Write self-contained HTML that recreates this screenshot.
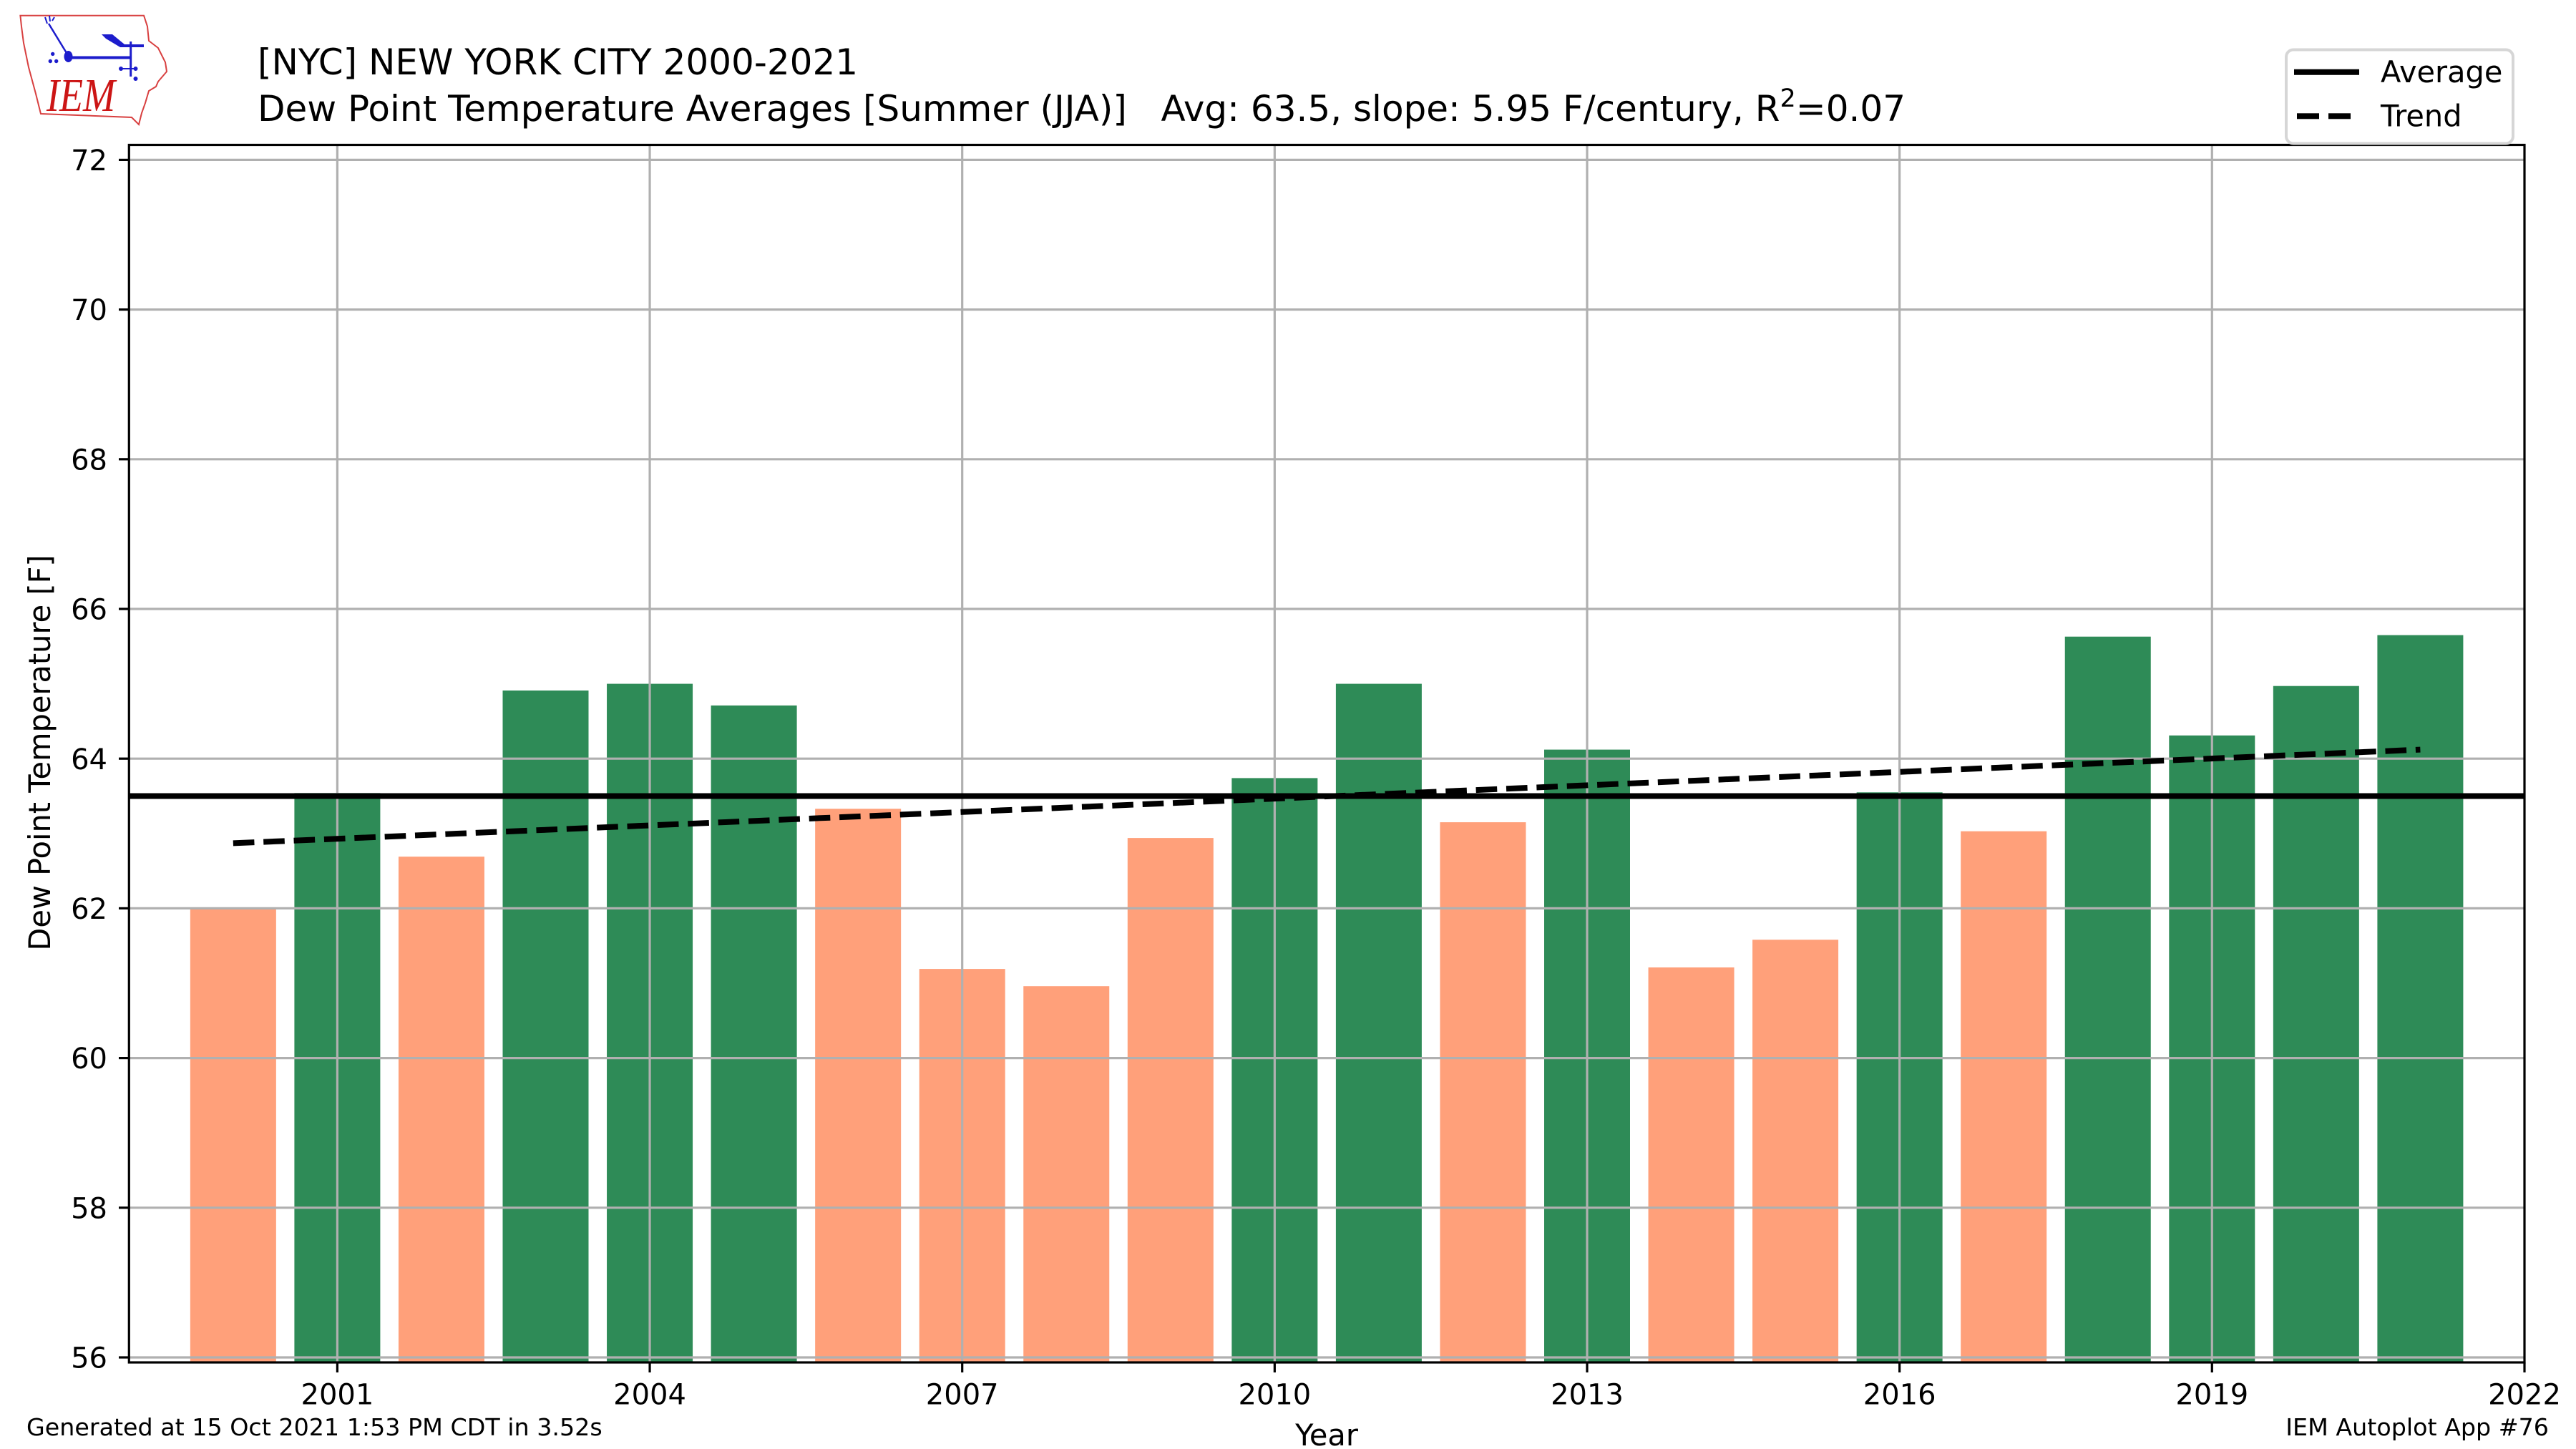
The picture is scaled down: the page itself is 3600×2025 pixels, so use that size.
<!DOCTYPE html>
<html>
<head>
<meta charset="utf-8">
<style>
html,body{margin:0;padding:0;background:#fff;}
svg{display:block;}
text{font-family:"DejaVu Sans","Liberation Sans",sans-serif;fill:#000;white-space:pre;}
</style>
</head>
<body>
<svg width="3600" height="2025" viewBox="0 0 3600 2025" xmlns="http://www.w3.org/2000/svg">
<rect x="0" y="0" width="3600" height="2025" fill="#fff"/>

<!-- Logo -->
<g>
  <path d="M28.4,21.7 L201,21.7 L206,37 L208,57 L221,67 L231,87 L233,100 L221,114 L218,121 L208,127 L203,144 L198,158 L194,174 L184,164 L57,159 L50,131 L40,94 L33,60 L30,37 Z" fill="#fff" stroke="#d84040" stroke-width="2"/>
  <g stroke="#1c1ccc" fill="#1c1ccc">
    <line x1="68" y1="33" x2="93" y2="74" stroke-width="2.5"/>
    <line x1="66" y1="33" x2="63" y2="24" stroke-width="2"/>
    <line x1="70" y1="30" x2="69" y2="22" stroke-width="2"/>
    <line x1="73" y1="29" x2="76" y2="24" stroke-width="2"/>
    <ellipse cx="95.5" cy="79" rx="6" ry="8" stroke="none"/>
    <line x1="95" y1="80.5" x2="182" y2="80.5" stroke-width="4"/>
    <line x1="182.7" y1="58" x2="182.7" y2="107" stroke-width="3"/>
    <polygon points="142,48 157,48 174,62 201,62 201,66 168,66 148,54" stroke="none"/>
    <circle cx="73.7" cy="75.4" r="2.7" stroke="none"/>
    <circle cx="70.3" cy="85.5" r="2.7" stroke="none"/>
    <circle cx="78.7" cy="85.5" r="2.7" stroke="none"/>
    <circle cx="169" cy="96" r="3" stroke="none"/>
    <circle cx="189.5" cy="96" r="3" stroke="none"/>
    <circle cx="189.5" cy="110" r="3" stroke="none"/>
    <line x1="169" y1="96" x2="189" y2="96" stroke-width="2"/>
  </g>
  <text x="65" y="155" textLength="96" lengthAdjust="spacingAndGlyphs" style="font-family:'Liberation Serif',serif;font-style:italic;font-size:66px;fill:#cc1515;">IEM</text>
</g>

<!-- Titles -->
<text x="360" y="104" style="font-size:50px;">[NYC] NEW YORK CITY 2000-2021</text>
<text x="360" y="169" style="font-size:50px;">Dew Point Temperature Averages [Summer (JJA)]   Avg: 63.5, slope: 5.95 F/century, R<tspan dy="-20" style="font-size:35px;">2</tspan><tspan dy="20">=0.07</tspan></text>

<!-- Bars -->
<g>
<rect x="265.85" y="1270.4" width="120" height="633.6" fill="#FFA07A"/>
<rect x="411.4" y="1108.3" width="120" height="795.7" fill="#2E8B57"/>
<rect x="556.95" y="1197.2" width="120" height="706.8" fill="#FFA07A"/>
<rect x="702.5" y="965.0" width="120" height="939" fill="#2E8B57"/>
<rect x="848.05" y="955.6" width="120" height="948.4" fill="#2E8B57"/>
<rect x="993.6" y="985.9" width="120" height="918.1" fill="#2E8B57"/>
<rect x="1139.15" y="1130.3" width="120" height="773.7" fill="#FFA07A"/>
<rect x="1284.7" y="1354.1" width="120" height="549.9" fill="#FFA07A"/>
<rect x="1430.25" y="1378.2" width="120" height="525.8" fill="#FFA07A"/>
<rect x="1575.8" y="1171.1" width="120" height="732.9" fill="#FFA07A"/>
<rect x="1721.35" y="1087.4" width="120" height="816.6" fill="#2E8B57"/>
<rect x="1866.9" y="955.6" width="120" height="948.4" fill="#2E8B57"/>
<rect x="2012.45" y="1149.1" width="120" height="754.9" fill="#FFA07A"/>
<rect x="2158.0" y="1047.6" width="120" height="856.4" fill="#2E8B57"/>
<rect x="2303.55" y="1352.0" width="120" height="552" fill="#FFA07A"/>
<rect x="2449.1" y="1313.3" width="120" height="590.7" fill="#FFA07A"/>
<rect x="2594.65" y="1107.3" width="120" height="796.7" fill="#2E8B57"/>
<rect x="2740.2" y="1161.7" width="120" height="742.3" fill="#FFA07A"/>
<rect x="2885.75" y="889.7" width="120" height="1014.3" fill="#2E8B57"/>
<rect x="3031.3" y="1027.8" width="120" height="876.2" fill="#2E8B57"/>
<rect x="3176.85" y="958.7" width="120" height="945.3" fill="#2E8B57"/>
<rect x="3322.4" y="887.6" width="120" height="1016.4" fill="#2E8B57"/>
</g>

<!-- Grid -->
<g stroke="#b0b0b0" stroke-width="3.2">
<line x1="180.3" y1="1897" x2="3528" y2="1897"/>
<line x1="180.3" y1="1687.8" x2="3528" y2="1687.8"/>
<line x1="180.3" y1="1478.6" x2="3528" y2="1478.6"/>
<line x1="180.3" y1="1269.4" x2="3528" y2="1269.4"/>
<line x1="180.3" y1="1060.2" x2="3528" y2="1060.2"/>
<line x1="180.3" y1="851" x2="3528" y2="851"/>
<line x1="180.3" y1="641.8" x2="3528" y2="641.8"/>
<line x1="180.3" y1="432.6" x2="3528" y2="432.6"/>
<line x1="180.3" y1="223.4" x2="3528" y2="223.4"/>
<line x1="471.4" y1="202.5" x2="471.4" y2="1904"/>
<line x1="908.05" y1="202.5" x2="908.05" y2="1904"/>
<line x1="1344.7" y1="202.5" x2="1344.7" y2="1904"/>
<line x1="1781.35" y1="202.5" x2="1781.35" y2="1904"/>
<line x1="2218" y1="202.5" x2="2218" y2="1904"/>
<line x1="2654.65" y1="202.5" x2="2654.65" y2="1904"/>
<line x1="3091.3" y1="202.5" x2="3091.3" y2="1904"/>
</g>

<!-- Average & Trend -->
<line x1="180.3" y1="1112.5" x2="3528" y2="1112.5" stroke="#000" stroke-width="8"/>
<line x1="325.85" y1="1178.4" x2="3382.4" y2="1047.6" stroke="#000" stroke-width="8" stroke-dasharray="29.6 12.8"/>

<!-- Spines -->
<rect x="180.3" y="202.5" width="3347.7" height="1701.5" fill="none" stroke="#000" stroke-width="3.2"/>

<!-- Ticks -->
<g stroke="#000" stroke-width="3.2">
<line x1="166" y1="1897" x2="180.3" y2="1897"/>
<line x1="166" y1="1687.8" x2="180.3" y2="1687.8"/>
<line x1="166" y1="1478.6" x2="180.3" y2="1478.6"/>
<line x1="166" y1="1269.4" x2="180.3" y2="1269.4"/>
<line x1="166" y1="1060.2" x2="180.3" y2="1060.2"/>
<line x1="166" y1="851" x2="180.3" y2="851"/>
<line x1="166" y1="641.8" x2="180.3" y2="641.8"/>
<line x1="166" y1="432.6" x2="180.3" y2="432.6"/>
<line x1="166" y1="223.4" x2="180.3" y2="223.4"/>
<line x1="471.4" y1="1904" x2="471.4" y2="1918"/>
<line x1="908.05" y1="1904" x2="908.05" y2="1918"/>
<line x1="1344.7" y1="1904" x2="1344.7" y2="1918"/>
<line x1="1781.35" y1="1904" x2="1781.35" y2="1918"/>
<line x1="2218" y1="1904" x2="2218" y2="1918"/>
<line x1="2654.65" y1="1904" x2="2654.65" y2="1918"/>
<line x1="3091.3" y1="1904" x2="3091.3" y2="1918"/>
<line x1="3528" y1="1904" x2="3528" y2="1918"/>
</g>
<g style="font-size:40px;" text-anchor="end">
<text x="150" y="1911.6">56</text>
<text x="150" y="1702.4">58</text>
<text x="150" y="1493.2">60</text>
<text x="150" y="1284">62</text>
<text x="150" y="1074.8">64</text>
<text x="150" y="865.6">66</text>
<text x="150" y="656.4">68</text>
<text x="150" y="447.2">70</text>
<text x="150" y="238">72</text>
</g>
<g style="font-size:40px;" text-anchor="middle">
<text x="471.4" y="1962.5">2001</text>
<text x="908.05" y="1962.5">2004</text>
<text x="1344.7" y="1962.5">2007</text>
<text x="1781.35" y="1962.5">2010</text>
<text x="2218" y="1962.5">2013</text>
<text x="2654.65" y="1962.5">2016</text>
<text x="3091.3" y="1962.5">2019</text>
<text x="3528" y="1962.5">2022</text>
</g>

<!-- Axis labels -->
<text x="1854" y="2020" text-anchor="middle" style="font-size:41.5px;">Year</text>
<text transform="translate(70,1052) rotate(-90)" x="0" y="0" text-anchor="middle" style="font-size:41.5px;">Dew Point Temperature [F]</text>

<!-- Legend -->
<rect x="3195" y="69.5" width="317" height="131" rx="10" ry="10" fill="#fff" stroke="#d6d6d6" stroke-width="4"/>
<line x1="3206" y1="100.7" x2="3297" y2="100.7" stroke="#000" stroke-width="8"/>
<rect x="3210" y="158.3" width="31" height="8" fill="#000"/>
<rect x="3254" y="158.3" width="31" height="8" fill="#000"/>
<text x="3327" y="115" style="font-size:41.5px;">Average</text>
<text x="3327" y="176.7" style="font-size:41.5px;">Trend</text>

<!-- Footers -->
<text x="37" y="2006" style="font-size:33.3px;">Generated at 15 Oct 2021 1:53 PM CDT in 3.52s</text>
<text x="3562" y="2006" text-anchor="end" style="font-size:33.3px;">IEM Autoplot App #76</text>
</svg>
</body>
</html>
